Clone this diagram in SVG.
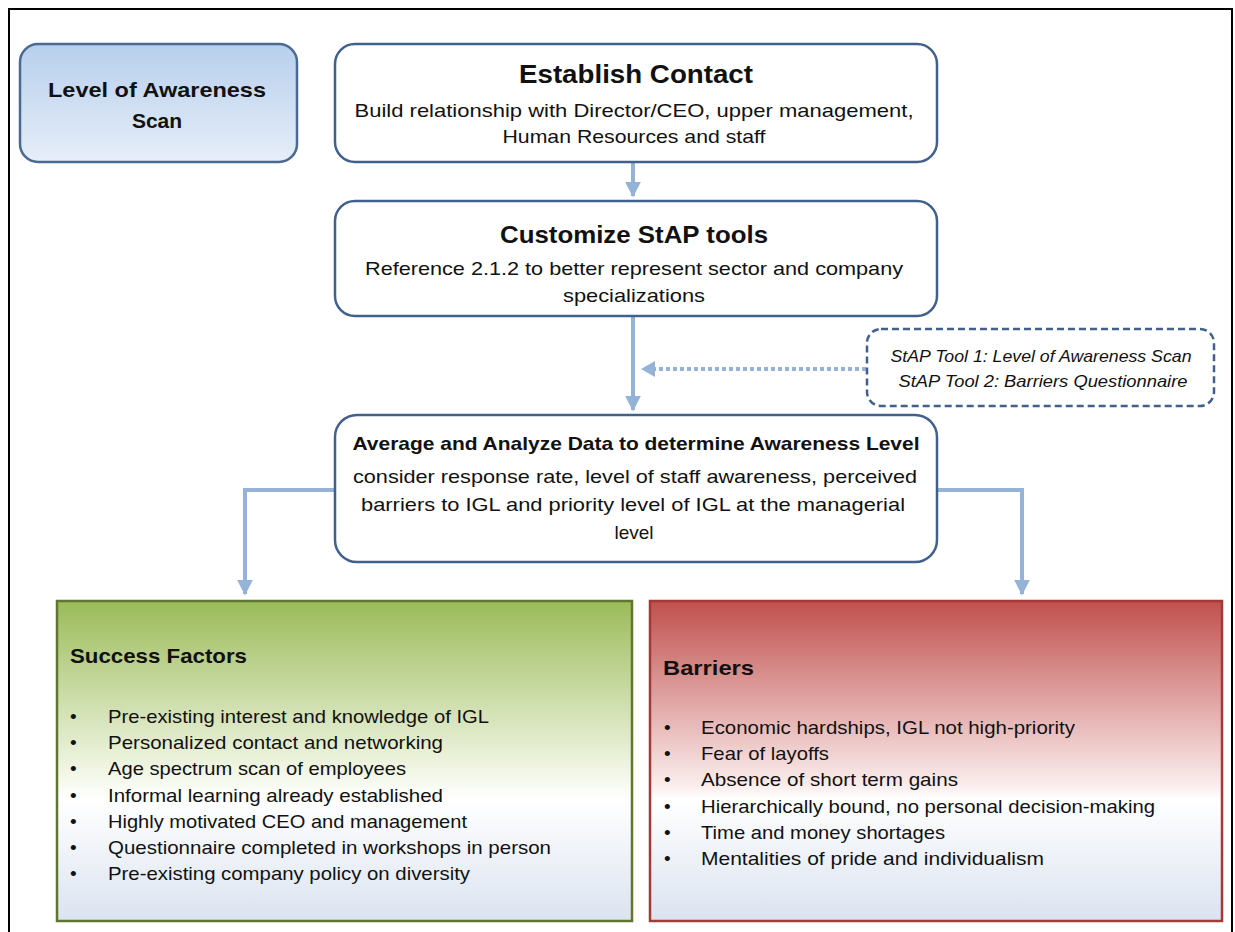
<svg xmlns="http://www.w3.org/2000/svg" width="1235" height="932" viewBox="0 0 1235 932">
<defs>
<linearGradient id="gBlue" x1="0" y1="0" x2="0" y2="1"><stop offset="0" stop-color="#b7cfec"/><stop offset="1" stop-color="#e6eef9"/></linearGradient>
<linearGradient id="gGreen" x1="0" y1="0" x2="0" y2="1"><stop offset="0" stop-color="#9bbb59"/><stop offset="0.55" stop-color="#f4f8ea"/><stop offset="0.62" stop-color="#ffffff"/><stop offset="1" stop-color="#dbe3f0"/></linearGradient>
<linearGradient id="gRed" x1="0" y1="0" x2="0" y2="1"><stop offset="0" stop-color="#c0504d"/><stop offset="0.58" stop-color="#fbeeee"/><stop offset="0.62" stop-color="#ffffff"/><stop offset="1" stop-color="#dbe3f0"/></linearGradient>
<marker id="ah" viewBox="0 0 10 10" refX="9" refY="5" markerWidth="4" markerHeight="4" orient="auto" markerUnits="strokeWidth"><path d="M0,0 L10,5 L0,10 z" fill="#95b3d7"/></marker>
</defs>
<style>
text{font-family:"Liberation Sans",Arial,sans-serif;fill:#111;}
.box{fill:#fff;stroke:#41618c;stroke-width:2.5;}
.t{font-weight:bold;text-anchor:middle;}
.b{font-size:19px;}
.c{text-anchor:middle;}
.conn{fill:none;stroke:#95b3d7;stroke-width:4;}
</style>
<rect x="9" y="9" width="1223" height="930" fill="#fff" stroke="#000" stroke-width="2"/>

<g id="connectors">
<path class="conn" d="M633,163 V196" marker-end="url(#ah)"/>
<path class="conn" d="M633,317 V410" marker-end="url(#ah)"/>
<path d="M866,369 H648" fill="none" stroke="#95b3d7" stroke-width="4" stroke-dasharray="4,3"/>
<path d="M641,369 L655,361 L655,377 z" fill="#95b3d7"/>
<path class="conn" d="M335,490 H245 V594" marker-end="url(#ah)"/>
<path class="conn" d="M937,490 H1022 V594" marker-end="url(#ah)"/>
</g>

<g id="level">
<rect x="20" y="44" width="277" height="118" rx="18" fill="url(#gBlue)" stroke="#4a6a92" stroke-width="2.5"/>
<text class="t" x="157" y="97" font-size="21" textLength="218" lengthAdjust="spacingAndGlyphs">Level of Awareness</text>
<text class="t" x="157" y="128" font-size="21">Scan</text>
</g>

<g id="establish">
<rect class="box" x="335" y="44" width="602" height="118" rx="20"/>
<text class="t" x="636" y="83" font-size="26" textLength="234" lengthAdjust="spacingAndGlyphs">Establish Contact</text>
<text class="b c" x="634" y="117" textLength="559" lengthAdjust="spacingAndGlyphs">Build relationship with Director/CEO, upper management,</text>
<text class="b c" x="634" y="143" textLength="263" lengthAdjust="spacingAndGlyphs">Human Resources and staff</text>
</g>

<g id="customize">
<rect class="box" x="335" y="201" width="602" height="115" rx="20"/>
<text class="t" x="634" y="243" font-size="24" textLength="268" lengthAdjust="spacingAndGlyphs">Customize StAP tools</text>
<text class="b c" x="634" y="275" textLength="538" lengthAdjust="spacingAndGlyphs">Reference 2.1.2 to better represent sector and company</text>
<text class="b c" x="634" y="302" textLength="142" lengthAdjust="spacingAndGlyphs">specializations</text>
</g>

<g id="tools">
<rect x="867" y="329" width="347" height="77" rx="14" fill="#fff" stroke="#41618c" stroke-width="2.5" stroke-dasharray="7,4"/>
<text x="1041" y="362" font-size="17" font-style="italic" text-anchor="middle" textLength="301" lengthAdjust="spacingAndGlyphs">StAP Tool 1: Level of Awareness Scan</text>
<text x="1043" y="387" font-size="17" font-style="italic" text-anchor="middle" textLength="289" lengthAdjust="spacingAndGlyphs">StAP Tool 2: Barriers Questionnaire</text>
</g>

<g id="average">
<rect class="box" x="335" y="415" width="602" height="147" rx="22"/>
<text class="t" x="636" y="450" font-size="19" textLength="567" lengthAdjust="spacingAndGlyphs">Average and Analyze Data to determine Awareness Level</text>
<text class="b c" x="635" y="483" textLength="564" lengthAdjust="spacingAndGlyphs">consider response rate, level of staff awareness, perceived</text>
<text class="b c" x="633" y="511" textLength="544" lengthAdjust="spacingAndGlyphs">barriers to IGL and priority level of IGL at the managerial</text>
<text class="b c" x="634" y="539">level</text>
</g>

<g id="success">
<rect x="57" y="601" width="575" height="320" fill="url(#gGreen)" stroke="#5f7530" stroke-width="2.5"/>
<text x="70" y="663" font-size="21" font-weight="bold" textLength="177" lengthAdjust="spacingAndGlyphs">Success Factors</text>
<g class="b">
<text x="70" y="723">•</text><text x="108" y="723" textLength="381" lengthAdjust="spacingAndGlyphs">Pre-existing interest and knowledge of IGL</text>
<text x="70" y="749">•</text><text x="108" y="749" textLength="335" lengthAdjust="spacingAndGlyphs">Personalized contact and networking</text>
<text x="70" y="775">•</text><text x="108" y="775" textLength="298" lengthAdjust="spacingAndGlyphs">Age spectrum scan of employees</text>
<text x="70" y="802">•</text><text x="108" y="802" textLength="335" lengthAdjust="spacingAndGlyphs">Informal learning already established</text>
<text x="70" y="828">•</text><text x="108" y="828" textLength="359" lengthAdjust="spacingAndGlyphs">Highly motivated CEO and management</text>
<text x="70" y="854">•</text><text x="108" y="854" textLength="443" lengthAdjust="spacingAndGlyphs">Questionnaire completed in workshops in person</text>
<text x="70" y="880">•</text><text x="108" y="880" textLength="362" lengthAdjust="spacingAndGlyphs">Pre-existing company policy on diversity</text>
</g>
</g>

<g id="barriers">
<rect x="650" y="601" width="572" height="320" fill="url(#gRed)" stroke="#a33a37" stroke-width="2.5"/>
<text x="663" y="675" font-size="21" font-weight="bold" textLength="91" lengthAdjust="spacingAndGlyphs">Barriers</text>
<g class="b">
<text x="664" y="734">•</text><text x="701" y="734" textLength="374" lengthAdjust="spacingAndGlyphs">Economic hardships, IGL not high-priority</text>
<text x="664" y="760">•</text><text x="701" y="760" textLength="128" lengthAdjust="spacingAndGlyphs">Fear of layoffs</text>
<text x="664" y="786">•</text><text x="701" y="786" textLength="257" lengthAdjust="spacingAndGlyphs">Absence of short term gains</text>
<text x="664" y="813">•</text><text x="701" y="813" textLength="454" lengthAdjust="spacingAndGlyphs">Hierarchically bound, no personal decision-making</text>
<text x="664" y="839">•</text><text x="701" y="839" textLength="244" lengthAdjust="spacingAndGlyphs">Time and money shortages</text>
<text x="664" y="865">•</text><text x="701" y="865" textLength="343" lengthAdjust="spacingAndGlyphs">Mentalities of pride and individualism</text>
</g>
</g>
</svg>
